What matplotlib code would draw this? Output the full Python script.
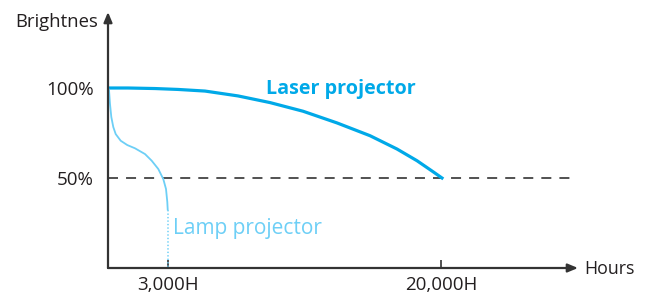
import matplotlib.pyplot as plt

# Datos (x en unidades de la gráfica, y en % de brillo)
tick_pos = [59.5, 333]
tick_labels = ['3,000H', '20,000H']
y_ticks = [50, 100]
y_labels = ['50%', '100%']

laser_x = [0, 20, 47, 70, 97, 130, 162, 195, 229, 262, 289, 309, 325, 334]
laser_y = [100, 100, 99.7, 99.2, 98.3, 95.6, 91.9, 87.1, 80.6, 73.5, 66.1, 59.6, 53.5, 50]

lamp_x = [0, 1, 2, 3.3, 5.3, 7.7, 12.7, 19.3, 27, 37, 43.7, 50.3, 55.3, 58, 59.3, 59.7]
lamp_y = [100, 99, 91.1, 83.9, 78.3, 74.4, 70.7, 68.3, 66.5, 63.3, 59.6, 55, 49.4, 43.9, 36.7, 32.5]

laser_color = '#00a9e8'
lamp_color = '#6dcff6'
axis_color = '#333333'
text_color = '#231f20'

plt.rcParams['font.family'] = ['Open Sans', 'DejaVu Sans']
plt.rcParams['lines.scale_dashes'] = False

fig = plt.figure(figsize=(6.48, 2.95), dpi=100)
W, H = 648, 295
ax = fig.add_axes([108 / W, 27 / H, (578 - 108) / W, (268 - 12) / H])
ax.set_xlim(0, 470)
ax.set_ylim(0, 256 / 1.8)

for s in ax.spines.values():
    s.set_visible(False)

# ejes con flecha
flecha = dict(arrowstyle='-|>,head_length=0.6,head_width=0.25',
              color=axis_color, lw=1.6, shrinkA=0, shrinkB=0)
ax.annotate('', xy=(1, 0), xytext=(0, 0), xycoords='axes fraction', arrowprops=flecha)
ax.annotate('', xy=(0, 1), xytext=(0, 0), xycoords='axes fraction', arrowprops=flecha)

# línea del 50%
ax.plot([0, 468], [50, 50], color=axis_color, lw=1.2, dashes=(7.2, 5.8))

# curvas
ax.plot(laser_x, laser_y, color=laser_color, lw=2.3, solid_joinstyle='round')
ax.plot(lamp_x, lamp_y, color=lamp_color, lw=1.3, solid_joinstyle='round')
ax.plot([lamp_x[-1], lamp_x[-1]], [lamp_y[-1], 0], color=lamp_color, lw=1.1,
        linestyle=(0, (1, 1.5)))

# ticks
ax.set_xticks(tick_pos)
ax.set_xticklabels(tick_labels)
ax.set_yticks(y_ticks)
ax.set_yticklabels(y_labels)
ax.tick_params(axis='x', direction='in', length=6, width=1.2, color=axis_color,
               labelsize=13.5, labelcolor=text_color, pad=6)
ax.tick_params(axis='y', length=0, labelsize=13.5, labelcolor=text_color, pad=10)

fig.text(98 / W, 1 - 22 / H, 'Brightnes', ha='right', va='center', fontsize=13.3,
         color=text_color)
fig.text(584 / W, 1 - 269 / H, 'Hours', ha='left', va='center', fontsize=12.8,
         color=text_color)

ax.text(158, 99.2, 'Laser projector', ha='left', va='center', fontsize=14.2,
        fontweight='bold', color=laser_color)
ax.text(65, 21.7, 'Lamp projector', ha='left', va='center', fontsize=15,
        color=lamp_color)

fig.savefig('out.png', dpi=100)
